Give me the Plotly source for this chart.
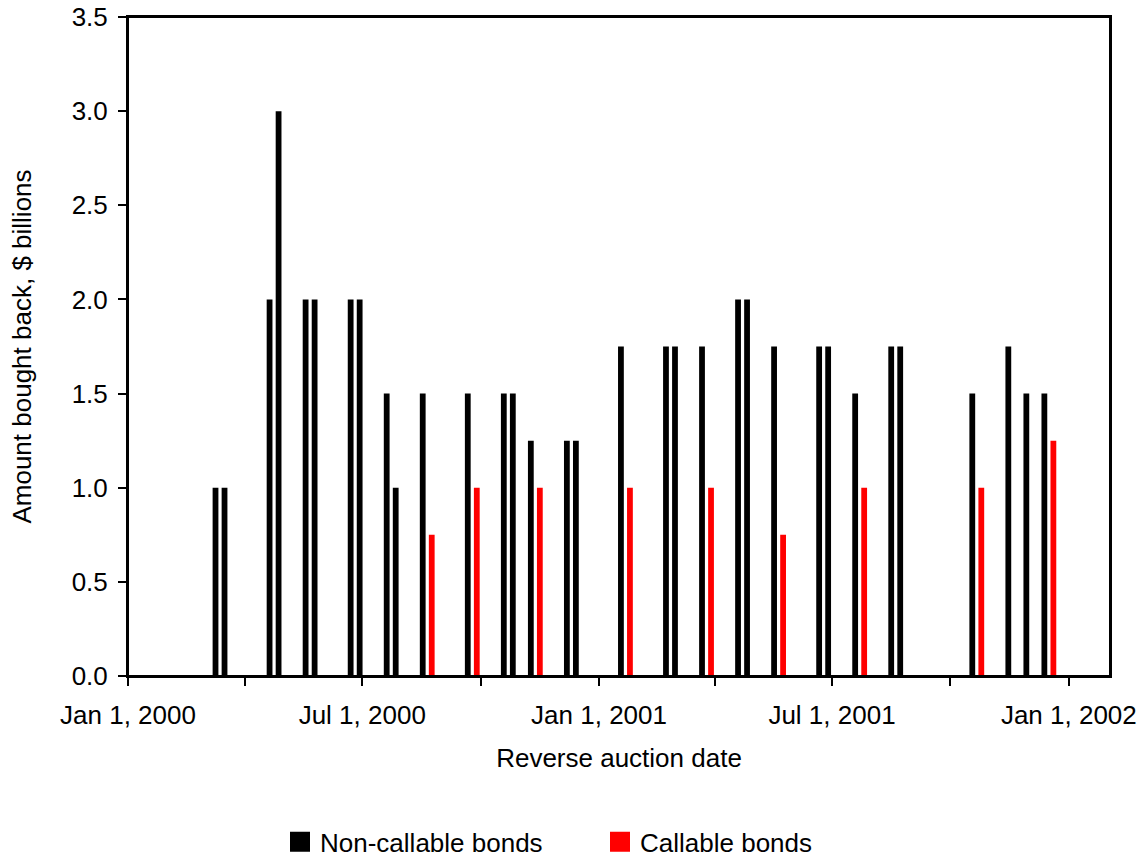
import plotly.graph_objects as go

# Non-callable bonds: reverse auction dates and amounts ($ billions)
noncall_dates = [
    "2000-03-09", "2000-03-16", "2000-04-20", "2000-04-27", "2000-05-18", "2000-05-25",
    "2000-06-22", "2000-06-29", "2000-07-20", "2000-07-27", "2000-08-17", "2000-09-21",
    "2000-10-19", "2000-10-26", "2000-11-09", "2000-12-07", "2000-12-14",
    "2001-01-18", "2001-02-22", "2001-03-01", "2001-03-22", "2001-04-19", "2001-04-26",
    "2001-05-17", "2001-06-21", "2001-06-28", "2001-07-19", "2001-08-16", "2001-08-23",
    "2001-10-18", "2001-11-15", "2001-11-29", "2001-12-13",
]
noncall_values = [
    1.0, 1.0, 2.0, 3.0, 2.0, 2.0,
    2.0, 2.0, 1.5, 1.0, 1.5, 1.5,
    1.5, 1.5, 1.25, 1.25, 1.25,
    1.75, 1.75, 1.75, 1.75, 2.0, 2.0,
    1.75, 1.75, 1.75, 1.5, 1.75, 1.75,
    1.5, 1.75, 1.5, 1.5,
]

# Callable bonds
call_dates = [
    "2000-08-24", "2000-09-28", "2000-11-16", "2001-01-25", "2001-03-29",
    "2001-05-24", "2001-07-26", "2001-10-25", "2001-12-20",
]
call_values = [0.75, 1.0, 1.0, 1.0, 1.0, 0.75, 1.0, 1.0, 1.25]

x_range = ["2000-01-01", "2002-02-02"]
y_ticks = [0.0, 0.5, 1.0, 1.5, 2.0, 2.5, 3.0, 3.5]

BAR_W = 4.5 * 86400000  # bar width in ms (~4.5 days)
FONT = "Liberation Sans, Arial, sans-serif"

fig = go.Figure()
fig.add_trace(go.Bar(x=noncall_dates, y=noncall_values, width=[BAR_W] * len(noncall_dates),
                     marker=dict(color="#000000", line=dict(width=0)),
                     name="Non-callable bonds", showlegend=False))
fig.add_trace(go.Bar(x=call_dates, y=call_values, width=[BAR_W] * len(call_dates),
                     marker=dict(color="#ff0000", line=dict(width=0)),
                     name="Callable bonds", showlegend=False))
# legend entries
fig.add_trace(go.Scatter(x=[None], y=[None], mode="markers", name="Non-callable bonds",
                         marker=dict(symbol="square", size=16, color="#000000",
                                     line=dict(width=4, color="#000000"))))
fig.add_trace(go.Scatter(x=[None], y=[None], mode="markers", name="Callable bonds",
                         marker=dict(symbol="square", size=16, color="#ff0000",
                                     line=dict(width=4, color="#ff0000"))))

# plot-area frame
fig.add_shape(type="rect", xref="paper", yref="paper", x0=0, x1=1, y0=0, y1=1,
              line=dict(color="black", width=2), fillcolor="rgba(0,0,0,0)", layer="above")

fig.update_layout(
    width=1147, height=860,
    margin=dict(l=128, r=37, t=17, b=184, autoexpand=False),
    paper_bgcolor="white", plot_bgcolor="white",
    barmode="overlay",
    font=dict(family=FONT, size=26, color="black"),
    showlegend=True,
    legend=dict(orientation="h", x=0.1548, xanchor="left", y=-0.2159, yanchor="top",
                font=dict(size=26), itemwidth=30, entrywidth=275, traceorder="normal"),
)
fig.update_xaxes(
    type="date", range=x_range, automargin=False, ticklabeloverflow="allow",
    tick0="2000-01-01", dtick="M6", tickformat="%b %-d, %Y",
    ticks="outside", ticklen=8, tickwidth=2, tickcolor="black", ticklabelstandoff=7,
    minor=dict(dtick="M3", ticks="outside", ticklen=8, tickwidth=2, tickcolor="black", showgrid=False),
    showline=True, linewidth=2, linecolor="black", mirror=True,
    showgrid=False, zeroline=False,
    title=dict(text="Reverse auction date", font=dict(size=26), standoff=20),
    tickfont=dict(size=26),
)
fig.update_yaxes(
    range=[0, 3.5], tickvals=y_ticks, tickformat=".1f", automargin=False, ticklabeloverflow="allow",
    ticks="outside", ticklen=8, tickwidth=2, tickcolor="black", ticklabelstandoff=5,
    showline=True, linewidth=2, linecolor="black", mirror=True,
    showgrid=False, zeroline=False,
    title=dict(text="Amount bought back, $ billions", font=dict(size=26), standoff=33),
    tickfont=dict(size=26),
)

fig.write_html("out.html",
               config={"displayModeBar": False},
               post_script="document.body.style.margin='0';document.body.style.overflow='hidden';")
